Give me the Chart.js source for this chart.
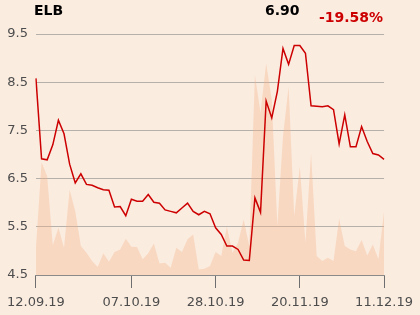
<!DOCTYPE html>
<html>
<head>
<meta charset="utf-8">
<script src="https://cdn.jsdelivr.net/npm/chart.js@4.4.1/dist/chart.umd.min.js"></script>
<style>
  html, body { margin: 0; padding: 0; background: #fbece0; }
  #wrap { position: relative; width: 420px; height: 315px; font-family: "DejaVu Sans", sans-serif; }
  .hd { position: absolute; font-weight: bold; font-size: 14px; white-space: nowrap; }
  #name { left: 34px; top: 2px; color: #000; }
  #last { left: 265px; top: 2px; color: #000; }
  #chg { left: 319px; top: 9px; color: #cc0000; }
</style>
</head>
<body>
<div id="wrap">
  <canvas id="c" width="420" height="315"></canvas>
  <div class="hd" id="name">ELB</div>
  <div class="hd" id="last">6.90</div>
  <div class="hd" id="chg">-19.58%</div>
</div>
<script>
/* ================= DATA ================= */

const dates = [
  '12.09.19','13.09.19','16.09.19','17.09.19','18.09.19','19.09.19','20.09.19','23.09.19','24.09.19','25.09.19',
  '26.09.19','27.09.19','30.09.19','01.10.19','02.10.19','03.10.19','04.10.19','07.10.19','08.10.19','09.10.19',
  '10.10.19','11.10.19','14.10.19','15.10.19','16.10.19','17.10.19','18.10.19','21.10.19','22.10.19','23.10.19',
  '24.10.19','25.10.19','28.10.19','29.10.19','30.10.19','04.11.19','05.11.19','06.11.19','07.11.19','08.11.19',
  '11.11.19','12.11.19','13.11.19','14.11.19','15.11.19','18.11.19','19.11.19','20.11.19','21.11.19','22.11.19',
  '25.11.19','26.11.19','27.11.19','28.11.19','29.11.19','02.12.19','03.12.19','04.12.19','05.12.19','06.12.19',
  '09.12.19','10.12.19','11.12.19'
];

const prices = [
  8.58, 6.91, 6.89, 7.20, 7.71, 7.43, 6.80, 6.41, 6.60, 6.38,
  6.36, 6.31, 6.27, 6.26, 5.91, 5.92, 5.73, 6.07, 6.03, 6.03,
  6.17, 6.01, 5.99, 5.85, 5.82, 5.79, 5.89, 5.99, 5.82, 5.75,
  5.82, 5.77, 5.48, 5.34, 5.10, 5.10, 5.03, 4.81, 4.80, 6.10,
  5.80, 8.11, 7.76, 8.31, 9.20, 8.87, 9.26, 9.26, 9.10, 8.01,
  8.00, 7.99, 8.01, 7.93, 7.22, 7.82, 7.16, 7.16, 7.58, 7.27,
  7.02, 6.99, 6.90
];

const volumes = [
  112, 468, 410, 123, 196, 113, 354, 265, 120, 92,
  58, 33, 90, 55, 95, 106, 150, 117, 116, 65,
  90, 131, 48, 51, 30, 113, 95, 148, 168, 23,
  26, 37, 95, 79, 200, 92, 134, 230, 120, 830,
  672, 879, 727, 203, 575, 782, 244, 451, 134, 506,
  79, 58, 72, 58, 233, 120, 106, 99, 145, 81,
  127, 65, 265
];

const xTickDates = ['12.09.19', '07.10.19', '28.10.19', '20.11.19', '11.12.19'];
const yTicks = [4.5, 5.5, 6.5, 7.5, 8.5, 9.5];

/* ================= CHART ================= */

const font = { family: 'DejaVu Sans', size: 13 };

new Chart(document.getElementById('c'), {
  type: 'line',
  data: {
    labels: dates,
    datasets: [{
      label: 'Price',
      data: prices,
      yAxisID: 'y',
      borderColor: '#cc0000',
      borderWidth: 1.5,
      pointRadius: 0,
      tension: 0,
      fill: false,
      order: 0
    }, {
      label: 'Volume',
      data: volumes,
      yAxisID: 'vol',
      borderWidth: 0,
      borderColor: 'rgba(0,0,0,0)',
      backgroundColor: 'rgba(242,175,130,0.33)',
      pointRadius: 0,
      tension: 0,
      fill: 'origin',
      order: 1
    }]
  },
  options: {
    responsive: false,
    animation: false,
    events: [],
    layout: { padding: { top: 34, right: 34, left: 0, bottom: 0 } },
    plugins: { legend: { display: false }, tooltip: { enabled: false } },
    scales: {
      x: {
        type: 'category',
        offset: false,
        afterBuildTicks: s => {
          s.ticks = s.ticks.filter(t => xTickDates.includes(dates[t.value]));
        },
        afterFit: s => { s.height = 40; },
        grid: { drawOnChartArea: false, drawTicks: true, tickLength: 13, color: '#6e6e6e' },
        border: { display: true, color: '#8a8a8a', width: 1 },
        ticks: { autoSkip: false, maxRotation: 0, color: '#4d4d4d', font: font, padding: 7 }
      },
      y: {
        min: 4.5,
        max: 9.5,
        afterBuildTicks: s => { s.ticks = yTicks.map(v => ({ value: v })); },
        afterFit: s => { s.width = 34; },
        grid: { color: '#b6b0aa', drawTicks: false },
        border: { display: false },
        ticks: { color: '#4d4d4d', font: font, padding: 8, callback: v => v.toFixed(1) }
      },
      vol: {
        display: false,
        min: 0,
        max: 1000
      }
    }
  }
});
</script>
</body>
</html>
